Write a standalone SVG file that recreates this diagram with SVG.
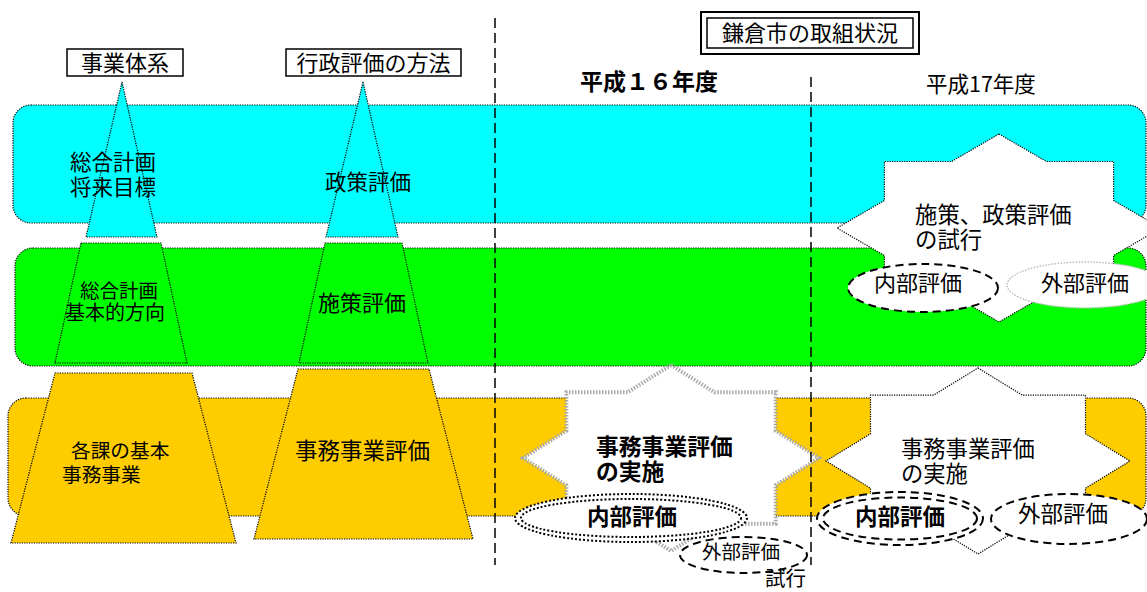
<svg xmlns="http://www.w3.org/2000/svg" width="1147" height="592" viewBox="0 0 1147 592">
<style>
text{font-family:"Noto Sans CJK JP","Noto Sans",sans-serif;fill:#000}
.b{font-weight:bold}
.dot{stroke:#000;stroke-width:1.2;stroke-dasharray:1.2 1.2}
.cy{fill:#00FFFF}
.gr{fill:#00FF00}
.or{fill:#FFCC00}
.box{fill:#fff;stroke:#000}
.dash{fill:#fff;stroke:#000;stroke-width:2;stroke-dasharray:8 5}
.div{stroke:#000;stroke-width:1.5;stroke-dasharray:10 5;fill:none}
</style>
<rect width="1147" height="592" fill="#fff"/>
<g id="bands">
<rect id="band-cyan" class="cy dot" x="13" y="105" width="1133" height="118" rx="18"/>
<rect id="band-green" class="gr dot" x="15" y="248" width="1131" height="118" rx="18"/>
<rect id="band-orange" class="or dot" x="8" y="398" width="1138" height="118" rx="18"/>
</g>
<g id="pyramid-system">
<polygon class="cy dot" points="122,82 157,237 86,237"/>
<polygon class="gr dot" points="81,243 161,243 187,363 55,363"/>
<polygon class="or dot" points="55,373 192,373 236,543 11,543"/>
</g>
<g id="pyramid-method">
<polygon class="cy dot" points="363,82 398,237 326,237"/>
<polygon class="gr dot" points="325,243 402,243 428,363 299,363"/>
<polygon class="or dot" points="298,369 429,369 473,539 254,539"/>
</g>
<g id="label-system">
<rect class="box" stroke-width="1.5" x="67" y="49" width="116" height="27"/>
<text x="125" y="71" font-size="22" text-anchor="middle">事業体系</text>
</g>
<g id="label-method">
<rect class="box" stroke-width="1.5" x="286" y="49" width="175" height="27"/>
<text x="373.5" y="71" font-size="22" text-anchor="middle">行政評価の方法</text>
</g>
<g id="title">
<rect class="box" stroke-width="2" x="701" y="12" width="218" height="42"/>
<rect fill="none" stroke="#000" stroke-width="1.5" x="707" y="18" width="206" height="30"/>
<text x="810" y="41" font-size="22" text-anchor="middle">鎌倉市の取組状況</text>
</g>
<g id="year16"><text class="b" x="580" y="90" font-size="23">平成１６年度</text></g>
<g id="year17"><text x="926" y="92" font-size="21.5">平成17年度</text></g>
<g id="texts-left">
<text font-size="21.5"><tspan x="70" y="170">総合計画</tspan><tspan x="70" y="195">将来目標</tspan></text>
<text x="325" y="190" font-size="21.5">政策評価</text>
<text><tspan x="80" y="298" font-size="19.5">総合計画</tspan><tspan x="65" y="320" font-size="20">基本的方向</tspan></text>
<text x="318" y="311" font-size="22">施策評価</text>
<text font-size="19.7"><tspan x="71" y="458">各課の基本</tspan><tspan x="62" y="482">事務事業</tspan></text>
<text x="295" y="459" font-size="22.5">事務事業評価</text>
</g>
<g id="star-policy">
<polygon fill="#fff" class="dot" points="999,134 1046.5,161.5 1113.6,161.5 1113.6,200.5 1161,228 1113.6,255.5 1113.6,294.5 1046.5,294.5 999,322 951.5,294.5 884.4,294.5 884.4,255.5 837,228 884.4,200.5 884.4,161.5 951.5,161.5"/>
<text font-size="22.4"><tspan x="915" y="223">施策、政策評価</tspan><tspan x="915" y="248">の試行</tspan></text>
</g>
<g id="star-16">
<polygon fill="#fff" stroke="#aaa" stroke-width="4" stroke-dasharray="1.5 1.5" points="671,365 714.35,392.24 775.65,392.24 775.65,430.76 819,458 775.65,485.24 775.65,523.76 714.35,523.76 671,551 627.65,523.76 566.35,523.76 566.35,485.24 523,458 566.35,430.76 566.35,392.24 627.65,392.24"/>
<text class="b" font-size="22.8"><tspan x="596" y="455">事務事業評価</tspan><tspan x="596" y="480">の実施</tspan></text>
</g>
<g id="star-17">
<polygon fill="#fff" class="dot" points="978,368 1022.5,395.2 1085.5,395.2 1085.5,433.8 1130,461 1085.5,488.2 1085.5,526.8 1022.5,526.8 978,554 933.5,526.8 870.5,526.8 870.5,488.2 826,461 870.5,433.8 870.5,395.2 933.5,395.2"/>
<text font-size="22.3"><tspan x="901" y="457">事務事業評価</tspan><tspan x="901" y="482">の実施</tspan></text>
</g>
<g id="ext-16">
<ellipse class="dash" stroke-width="1.5" cx="743.5" cy="555" rx="63.5" ry="18"/>
<text x="702" y="559" font-size="19.5">外部評価</text>
</g>
<g id="int-16">
<ellipse fill="#fff" stroke="#000" stroke-width="2" stroke-dasharray="2 2" cx="631" cy="518" rx="116" ry="24"/>
<ellipse fill="none" stroke="#000" stroke-width="2" stroke-dasharray="2 2" cx="631" cy="518" rx="110" ry="19"/>
<text class="b" x="587" y="525" font-size="22.5">内部評価</text>
</g>
<g id="trial-16"><text x="765" y="586" font-size="20.5">試行</text></g>
<g id="int-17a">
<ellipse class="dash" cx="923" cy="288" rx="75" ry="24"/>
<text x="874" y="291" font-size="22">内部評価</text>
</g>
<g id="ext-17a">
<ellipse fill="#fff" stroke="#bbb" stroke-width="1.5" stroke-dasharray="1.5 1.5" cx="1085" cy="285" rx="78" ry="23"/>
<text x="1041" y="291" font-size="22">外部評価</text>
</g>
<g id="int-17b">
<ellipse class="dash" cx="900" cy="518.5" rx="83" ry="26.5"/>
<ellipse fill="none" stroke="#000" stroke-width="2" stroke-dasharray="8 5" cx="900" cy="518.5" rx="77" ry="21"/>
<text class="b" x="855" y="525" font-size="22.5">内部評価</text>
</g>
<g id="ext-17b">
<ellipse class="dash" stroke-width="1.5" cx="1069" cy="519" rx="78" ry="25"/>
<text x="1018" y="522" font-size="22.5">外部評価</text>
</g>
<g id="connectors">
<line class="div" x1="495" y1="18" x2="495" y2="565"/>
<line class="div" x1="811" y1="77" x2="811" y2="565"/>
</g>
</svg>
